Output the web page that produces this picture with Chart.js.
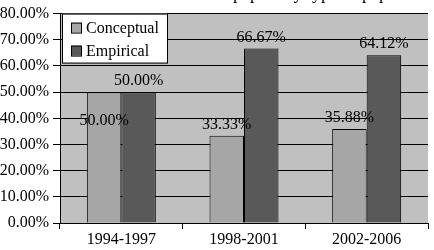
<!DOCTYPE html>
<html>
<head>
<meta charset="utf-8">
<script src="https://cdn.jsdelivr.net/npm/chart.js@4/dist/chart.umd.min.js"></script>
<style>
  html, body { margin: 0; padding: 0; background: #fff; }
  #wrap { position: relative; width: 434px; height: 250px; }
</style>
</head>
<body>
<div id="wrap"><canvas id="paperChart" width="434" height="250"></canvas></div>
<script>
'use strict';

// values
const periods = ["1994-1997", "1998-2001", "2002-2006"];
const conceptual = [50.00, 33.33, 35.88];
const empirical = [50.00, 66.67, 64.12];
const yTicks = [0, 10, 20, 30, 40, 50, 60, 70, 80];
const titleText = "Distribution of papers by type of paper";

const serif = "'Liberation Serif', 'Times New Roman', serif";

// gray plot area
const plotBg = {
  id: 'plotBg',
  beforeDraw(chart) {
    const a = chart.chartArea, ctx = chart.ctx;
    ctx.save();
    ctx.fillStyle = '#c0c0c0';
    ctx.fillRect(a.left, a.top, a.right - a.left, a.bottom - a.top);
    ctx.restore();
  }
};

// value labels above bars (first conceptual one sits lower, as in the original)
const valueLabels = {
  id: 'valueLabels',
  afterDatasetsDraw(chart) {
    const ctx = chart.ctx;
    ctx.save();
    ctx.font = '16px ' + serif;
    ctx.fillStyle = '#000';
    ctx.textAlign = 'center';
    ctx.textBaseline = 'middle';
    chart.data.datasets.forEach((ds, i) => {
      chart.getDatasetMeta(i).data.forEach((bar, j) => {
        let y = bar.y - 11;
        if (i === 0 && j === 0) y = bar.y + 29;
        ctx.fillText(ds.data[j].toFixed(2) + '%', bar.x, y);
      });
    });
    ctx.restore();
  }
};

// legend box in the top-left corner of the plot
const boxLegend = {
  id: 'boxLegend',
  afterDraw(chart) {
    const ctx = chart.ctx, a = chart.chartArea;
    const x = a.left + 2, y = a.top;
    ctx.save();
    ctx.fillStyle = '#fff';
    ctx.fillRect(x, y, 105, 49);
    ctx.strokeStyle = '#000';
    ctx.lineWidth = 1;
    ctx.strokeRect(x + 0.5, y + 0.5, 105, 49);
    ctx.font = '16px ' + serif;
    ctx.textBaseline = 'middle';
    chart.data.datasets.forEach((ds, i) => {
      const cy = y + 14 + i * 23;
      ctx.fillStyle = ds.backgroundColor;
      ctx.fillRect(x + 9, cy - 5, 10, 10);
      ctx.strokeRect(x + 9.5, cy - 4.5, 10, 10);
      ctx.fillStyle = '#000';
      ctx.fillText(ds.label, x + 24, cy + 1);
    });
    ctx.restore();
  }
};

// title is cut off at the top edge of the image, only descenders show
const clippedTitle = {
  id: 'clippedTitle',
  afterDraw(chart) {
    const ctx = chart.ctx;
    ctx.save();
    ctx.font = '18px ' + serif;
    ctx.fillStyle = '#000';
    ctx.textAlign = 'center';
    ctx.textBaseline = 'alphabetic';
    ctx.fillText(titleText, 262, -1);
    ctx.restore();
  }
};

new Chart(document.getElementById('paperChart'), {
  type: 'bar',
  data: {
    labels: periods,
    datasets: [
      {
        label: 'Conceptual',
        data: conceptual,
        backgroundColor: '#a6a6a6',
        borderColor: '#000',
        borderWidth: 1,
        categoryPercentage: 0.5625,
        barPercentage: 1
      },
      {
        label: 'Empirical',
        data: empirical,
        backgroundColor: '#595959',
        borderColor: '#000',
        borderWidth: 1,
        categoryPercentage: 0.5625,
        barPercentage: 1
      }
    ]
  },
  options: {
    responsive: false,
    animation: false,
    layout: { padding: { top: 8, right: 6, left: 0, bottom: 0 } },
    plugins: {
      legend: { display: false },
      tooltip: { enabled: false }
    },
    scales: {
      x: {
        grid: { offset: true, drawOnChartArea: false, drawTicks: true, tickLength: 6, color: '#000' },
        border: { display: true, color: '#000' },
        ticks: { color: '#000', font: { family: serif, size: 16 }, padding: 1 },
        afterFit(scale) { scale.height = 27; }
      },
      y: {
        min: 0,
        max: 80,
        afterBuildTicks(scale) { scale.ticks = yTicks.map(v => ({ value: v })); },
        grid: { color: '#000', lineWidth: 1, tickLength: 7 },
        border: { display: true, color: '#000' },
        ticks: {
          color: '#000',
          font: { family: serif, size: 16 },
          padding: 4,
          callback: v => v.toFixed(2) + '%'
        },
        afterFit(scale) { scale.width = 60; }
      }
    }
  },
  plugins: [plotBg, valueLabels, boxLegend, clippedTitle]
});
</script>
</body>
</html>
